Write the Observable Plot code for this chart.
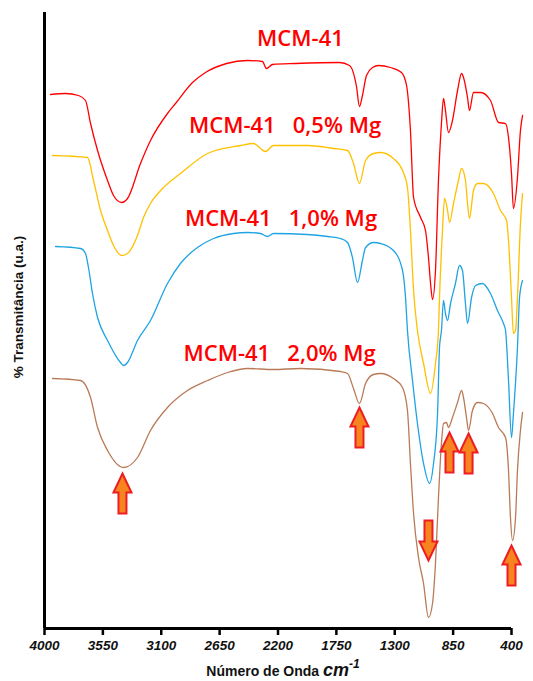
<!DOCTYPE html>
<html>
<head>
<meta charset="utf-8">
<script src="https://cdn.jsdelivr.net/npm/d3@7"></script>
<script src="https://cdn.jsdelivr.net/npm/@observablehq/plot@0.6"></script>
<style>
  html, body { margin: 0; padding: 0; background: #fff; }
  #chart svg { display: block; }
  #chart g[aria-label="x-axis tick label"],
  #chart g[aria-label="x-axis tick label"] text {
    font-family: "Liberation Sans", Arial, sans-serif;
    font-style: italic;
    font-weight: bold;
    font-size: 13.5px;
    fill: #111;
  }
</style>
</head>
<body>
<div id="chart"></div>
<script>
// Tick labels on the wavenumber axis
const xTicks = [4000, 3550, 3100, 2650, 2200, 1750, 1300, 850, 400];

// Series names and label texts
const seriesNames = ["MCM-41", "MCM-41 0,5% Mg", "MCM-41 1,0% Mg", "MCM-41 2,0% Mg"];
const seriesColors = ["#ff0000", "#ffc000", "#1ea3e3", "#b97a57"];

// Spectra: [wavenumber cm-1, transmittance (a.u., offset stacked)]
const mcm41 = [
  [3954,534],[3838,535],[3738,533],[3684,528],[3645,505],[3591,478],[3514,448],[3468,433],
  [3406,426],[3360,430],[3260,465],[3183,488],[3052,515],[2990,525],[2859,546],[2759,556],
  [2597,565],[2435,568],[2320,567],[2289,560],[2242,564],[2065,565],[1726,566],[1649,563],
  [1595,542],[1572,522],[1549,533],[1518,553],[1471,561],[1425,563],[1333,561],[1248,556],
  [1209,543],[1179,498],[1155,431],[1101,411],[1063,398],[1040,371],[1024,345],[1009,329],
  [986,358],[963,448],[940,505],[924,530],[909,518],[886,496],[855,508],[816,538],[785,555],
  [770,551],[739,531],[724,518],[693,536],[639,536],[562,528],[500,506],[446,505],[423,491],
  [400,455],[385,420],[354,451],[331,498],[315,513]
];
const mg05 = [
  [3938,473],[3668,471],[3622,448],[3568,418],[3514,398],[3468,383],[3406,373],[3360,375],
  [3283,393],[3237,411],[3183,425],[3090,440],[2952,455],[2743,475],[2489,483],[2389,485],
  [2296,477],[2235,483],[1973,483],[1772,480],[1664,478],[1618,465],[1572,445],[1525,468],
  [1464,475],[1410,476],[1310,470],[1240,458],[1202,441],[1179,398],[1155,338],[1125,298],
  [1078,265],[1024,235],[986,265],[963,298],[955,331],[932,398],[916,430],[893,418],[878,406],
  [847,425],[809,448],[785,460],[755,448],[739,425],[724,410],[693,438],[662,445],[616,445],
  [539,435],[485,418],[438,408],[423,388],[400,331],[385,295],[369,298],[354,331],[331,405],
  [315,435]
];
const mg10 = [
  [3915,382],[3722,380],[3684,375],[3661,361],[3630,335],[3591,311],[3514,288],[3414,266],
  [3390,263],[3360,266],[3283,288],[3183,308],[3052,345],[2952,365],[2821,381],[2697,390],[2543,395],
  [2435,396],[2335,395],[2281,392],[2235,395],[1973,394],[1818,392],[1718,390],[1664,386],
  [1626,371],[1587,346],[1549,368],[1525,381],[1464,386],[1410,385],[1310,378],[1240,358],
  [1217,331],[1202,298],[1163,248],[1125,205],[1078,165],[1032,145],[1001,165],[970,215],
  [955,281],[940,298],[924,328],[909,315],[893,308],[870,325],[832,345],[801,363],[778,358],
  [755,325],[739,305],[708,331],[677,343],[624,345],[562,335],[508,318],[462,305],[446,298],
  [423,248],[400,191],[385,215],[354,281],[338,331],[315,348]
];
const mg20 = [
  [3938,250],[3722,248],[3645,231],[3591,201],[3514,178],[3391,161],[3283,171],[3183,198],
  [3052,221],[2898,238],[2743,248],[2589,256],[2435,260],[2235,259],[2027,260],[1718,257],
  [1664,255],[1618,240],[1572,225],[1525,245],[1464,254],[1410,255],[1310,250],[1240,241],
  [1202,218],[1179,165],[1155,115],[1117,71],[1078,45],[1040,11],[1009,25],[986,65],[963,131],
  [940,185],[924,205],[901,206],[886,201],[855,211],[816,226],[785,238],[770,231],[747,211],
  [731,198],[701,218],[662,226],[616,225],[546,215],[500,201],[446,191],[423,158],[408,111],
  [392,88],[369,111],[354,158],[331,198],[315,216]
];

// Series labels: text, anchor wavenumber, anchor transmittance (baseline)
const labelTexts = ["MCM-41", "MCM-41\u00a0\u00a0 0,5% Mg", "MCM-41\u00a0\u00a0 1,0% Mg", "MCM-41\u00a0\u00a0 2,0% Mg"];
const labelWn = [2027, 2146, 2177, 2188];
const labelT = [583, 496, 403, 268];

// Marked bands (arrows): wavenumber, transmittance at arrow tip, direction
const arrowWn = [3399, 1572, 878, 731, 1040, 400];
const arrowT = [155, 221, 196, 195, 68, 83];
const arrowDir = ["up", "up", "up", "up", "down", "up"];

const spectra = [mcm41, mg05, mg10, mg20].flatMap((s, i) =>
  s.map(([wn, t]) => ({series: seriesNames[i], wn, t})));
const labels = labelTexts.map((text, i) => ({text, wn: labelWn[i], t: labelT[i]}));
const arrows = arrowWn.map((wn, i) => ({wn, t: arrowT[i], dir: arrowDir[i]}));

const arrowUp = {
  draw(ctx) {
    ctx.moveTo(0, 0); ctx.lineTo(9, 19); ctx.lineTo(4, 19); ctx.lineTo(4, 40);
    ctx.lineTo(-4, 40); ctx.lineTo(-4, 19); ctx.lineTo(-9, 19); ctx.closePath();
  }
};
const arrowDown = {
  draw(ctx) {
    ctx.moveTo(0, 0); ctx.lineTo(9, -19); ctx.lineTo(4, -19); ctx.lineTo(4, -40);
    ctx.lineTo(-4, -40); ctx.lineTo(-4, -19); ctx.lineTo(-9, -19); ctx.closePath();
  }
};

const chart = Plot.plot({
  width: 533,
  height: 681,
  marginLeft: 44,
  marginRight: 22,
  marginTop: 12,
  marginBottom: 53,
  style: {background: "#fff", overflow: "visible"},
  x: {domain: [4000, 400], label: null},
  y: {domain: [0, 616], axis: null},
  color: {domain: seriesNames, range: seriesColors},
  marks: [
    Plot.line(spectra, {x: "wn", y: "t", z: "series", stroke: "series", strokeWidth: 1.3, curve: "monotone-x"}),
    Plot.dot(arrows.filter(d => d.dir === "up"), {x: "wn", y: "t", symbol: arrowUp, r: 5, fill: "#f7841e", stroke: "#ee1c24", strokeWidth: 2}),
    Plot.dot(arrows.filter(d => d.dir === "down"), {x: "wn", y: "t", symbol: arrowDown, r: 5, fill: "#f7841e", stroke: "#ee1c24", strokeWidth: 2}),
    Plot.text(labels, {x: "wn", y: "t", text: "text", textAnchor: "middle", lineAnchor: "bottom", fill: "#ff0000", fontSize: 22, fontWeight: 600, fontFamily: "Open Sans"}),
    Plot.ruleX([4000], {stroke: "#000", strokeWidth: 3}),
    Plot.ruleY([0], {stroke: "#000", strokeWidth: 3}),
    Plot.axisX({ticks: xTicks, tickFormat: d => String(d), tickSize: 7, strokeWidth: 2.5, stroke: "#000", tickPadding: 5, label: null})
  ]
});

document.getElementById("chart").appendChild(chart);

const svg = d3.select(chart);
// x-axis title with superscript unit
const xl = svg.append("text")
  .attr("x", 283).attr("y", 676)
  .attr("text-anchor", "middle")
  .attr("font-family", "Liberation Sans")
  .attr("font-weight", "bold")
  .attr("font-size", 14)
  .attr("fill", "#111");
xl.append("tspan").text("Número de Onda ");
xl.append("tspan").attr("font-style", "italic").attr("font-size", 18).text("cm");
xl.append("tspan").attr("font-style", "italic").attr("font-size", 12).attr("dy", -8).text("-1");

// y-axis title
svg.append("text")
  .attr("transform", "translate(23,307) rotate(-90)")
  .attr("text-anchor", "middle")
  .attr("font-family", "Liberation Sans")
  .attr("font-weight", "bold")
  .attr("font-size", 13.5)
  .attr("fill", "#111")
  .text("% Transmitância (u.a.)");
</script>
</body>
</html>
